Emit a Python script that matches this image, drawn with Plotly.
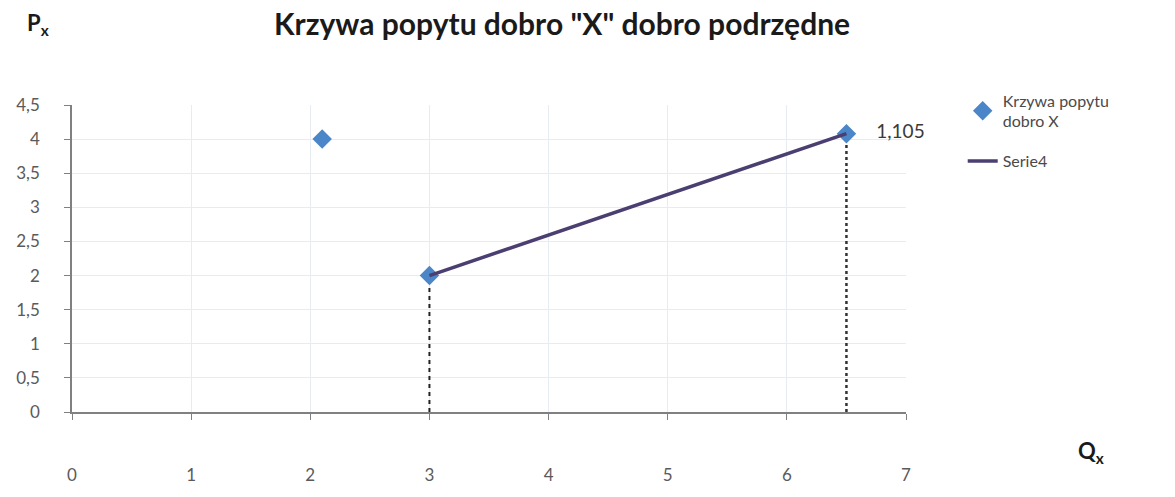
import plotly.graph_objects as go

# Demand curve points (quantity Q_x, price P_x)
q_points = [2.1, 3.0, 6.5]
p_points = [4.0, 2.0, 4.08]
point_labels = ["", "", "1,105"]

# Segment of the curve ("Serie4")
q_line = [3.0, 6.5]
p_line = [2.0, 4.08]

x_ticks = [0, 1, 2, 3, 4, 5, 6, 7]
y_ticks = [0, 0.5, 1, 1.5, 2, 2.5, 3, 3.5, 4, 4.5]
y_tick_text = ["0", "0,5", "1", "1,5", "2", "2,5", "3", "3,5", "4", "4,5"]

FONT = "Lato, Open Sans, sans-serif"
TICK_FONT = dict(family=FONT, size=17, color="#5a5a5a")

fig = go.Figure()

# Dashed drop lines from the curve's end points to the quantity axis
fig.add_trace(go.Scatter(
    x=[q_line[0], q_line[0]], y=[0, p_line[0]], mode="lines",
    line=dict(color="#222222", width=2, dash="4px,4px"),
    showlegend=False, hoverinfo="skip"))
fig.add_trace(go.Scatter(
    x=[q_line[1], q_line[1]], y=[0, p_line[1]], mode="lines",
    line=dict(color="#333333", width=2.5, dash="dot"),
    showlegend=False, hoverinfo="skip"))

fig.add_trace(go.Scatter(
    x=q_points, y=p_points, mode="markers+text",
    name="Krzywa popytu<br>dobro X", legendgroup="demand",
    text=point_labels, texttemplate="    %{text}", textposition="middle right",
    textfont=dict(family=FONT, size=19, color="#3a3a3a"),
    marker=dict(symbol="diamond", size=15, color="#4a86c8"),
    cliponaxis=False,
))
fig.add_trace(go.Scatter(
    x=q_line, y=p_line, mode="lines", name="Serie4", legendgroup="segment",
    line=dict(color="#4b3f72", width=3.5),
))

fig.update_layout(
    width=1175, height=497,
    margin=dict(l=72, r=269, t=105, b=75),
    paper_bgcolor="#ffffff", plot_bgcolor="#ffffff",
    legend=dict(
        x=1.068, y=1.07, xanchor="left", yanchor="top",
        font=dict(family=FONT, size=16, color="#4a4a4a"),
        bgcolor="rgba(0,0,0,0)", tracegroupgap=16,
    ),
    xaxis=dict(
        range=[0, 7], tickvals=x_ticks, ticks="outside", ticklen=6,
        tickcolor="#808080", showline=True, linecolor="#808080", linewidth=1.5,
        showgrid=True, gridcolor="#e6ecf2", zeroline=False,
        tickfont=TICK_FONT, ticklabelstandoff=41,
    ),
    yaxis=dict(
        range=[0, 4.5], tickvals=y_ticks, ticktext=y_tick_text, ticks="outside",
        ticklen=6, tickcolor="#808080", showline=True, linecolor="#808080",
        linewidth=1.5, showgrid=True, gridcolor="#e6ecf2", zeroline=False,
        tickfont=TICK_FONT, ticklabelstandoff=21,
    ),
    annotations=[
        dict(text="<b>Krzywa popytu dobro \"X\" dobro podrzędne</b>",
             xref="paper", yref="paper", x=0.588, y=1.268,
             xanchor="center", yanchor="middle", showarrow=False,
             font=dict(family=FONT, size=30, color="#1a1a1a")),
        dict(text="<b>P<sub>x</sub></b>", xref="paper", yref="paper",
             x=-0.041, y=1.265, xanchor="center", yanchor="middle", showarrow=False,
             font=dict(family=FONT, size=22, color="#1a1a1a")),
        dict(text="<b>Q<sub>x</sub></b>", xref="paper", yref="paper",
             x=1.222, y=-0.13, xanchor="center", yanchor="middle", showarrow=False,
             font=dict(family=FONT, size=22, color="#1a1a1a")),
    ],
)

fig.write_html("out.html")
